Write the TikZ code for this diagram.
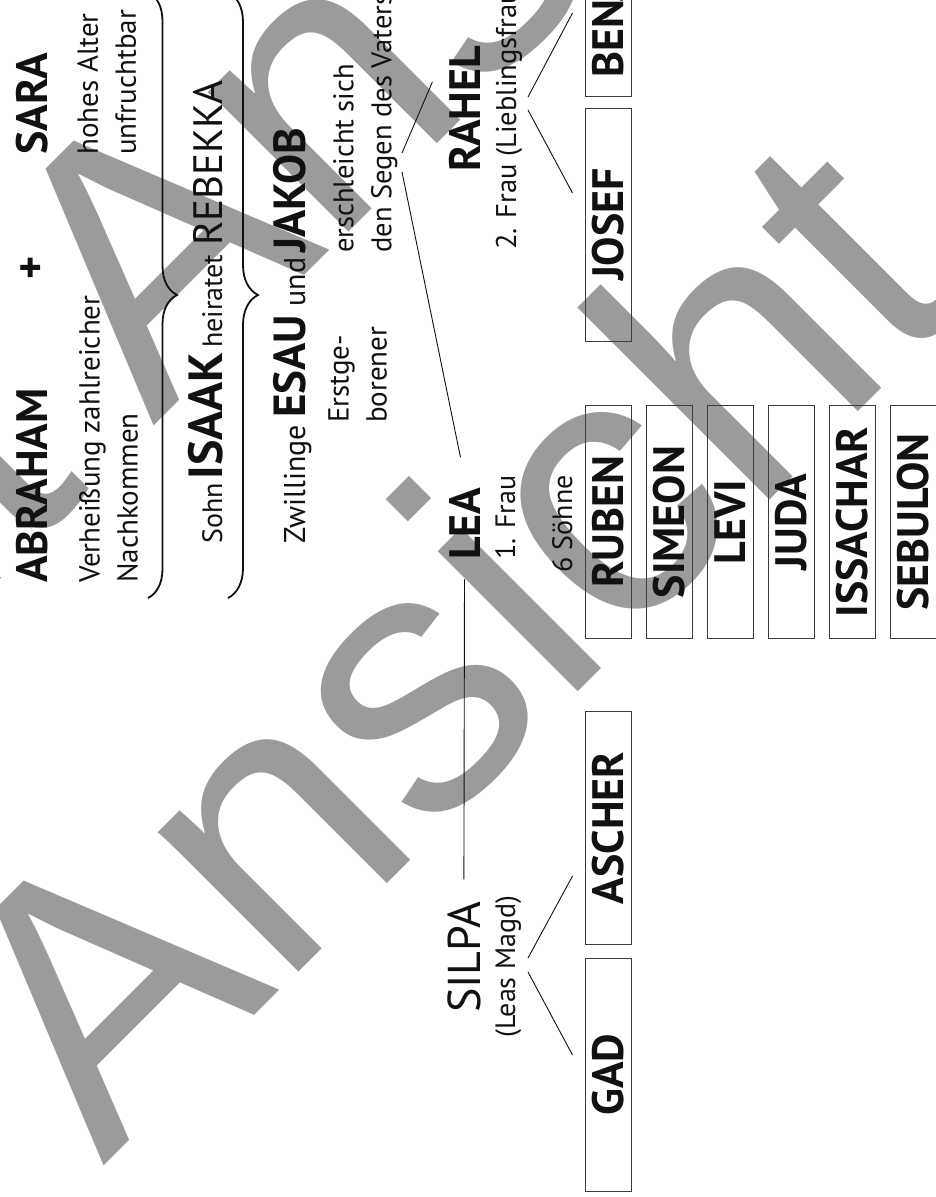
\documentclass[tikz,border=0pt]{standalone}
\usepackage{fontspec}
\setmainfont{PT Sans}
\newfontfamily\MarkFace{Liberation Sans}
\usetikzlibrary{calc,positioning,decorations.pathreplacing}
\definecolor{ink}{HTML}{111111}
\definecolor{boxline}{HTML}{3C3C3C}
\definecolor{markgrey}{HTML}{9B9B9B}
\newcommand{\NameFont}{\bfseries\fontsize{44}{50}\selectfont}
\newcommand{\BigFont}{\bfseries\fontsize{48}{54}\selectfont}
\newcommand{\TwinFont}{\bfseries\fontsize{45}{52}\selectfont}
\newcommand{\NoteFont}{\fontsize{29}{38}\selectfont}
\newcommand{\SmallFont}{\fontsize{28}{35}\selectfont}
\newcommand{\BoxFont}{\bfseries\fontsize{44}{50}\selectfont}
\tikzset{
  turned/.style={rotate=90, inner sep=0pt, text=ink},
  name label/.style={turned, font=\NameFont, anchor=base west},
  note label/.style={turned, font=\NoteFont, anchor=north west, align=left},
  line label/.style={turned, font=\SmallFont, anchor=base west},
  son box/.style={
    rotate=90, draw=boxline, line width=1pt, text=ink,
    minimum width=233pt, minimum height=46pt, inner sep=0pt, font=\BoxFont
  },
  kin line/.style={ink, line width=0.9pt},
  wedding brace/.style={
    ink, line width=1.8pt, decorate, decoration={brace, amplitude=#1}
  },
  preview mark/.style={
    markgrey, font=\MarkFace\fontsize{375}{375}\selectfont,
    rotate=45, anchor=base west, inner sep=0pt
  },
}

\begin{document}
\begin{tikzpicture}[x=1pt,y=-1pt]
  \useasboundingbox (0,0) rectangle (936,1197);
  \clip (0,0) rectangle (936,1197);

  % preview watermark (tiled)
  \node[preview mark] (mark-left) at (-777,1357) {Ansicht};
  \node[preview mark] (mark-upper) at (153,427) {Ansicht};
  \node[preview mark] (mark-lower) at (103,1167) {Ansicht};

  % Abraham + Sara
  \node[name label] (abraham) at (47,583) {ABRAHAM};
  \node[turned, font=\NameFont] (plus) at (33,268) {+};
  \node[name label] (sara) at (47,155) {SARA};
  \node[note label] (promise) at (79,583) {Verheißung zahlreicher\\Nachkommen};
  \node[note label] (age) at (77,155) {hohes Alter\\unfruchtbar};

  % braces down to Isaak and to the twins
  \draw[wedding brace=29pt] (148,-8) -- (148,598);
  \draw[wedding brace=30pt] (228,-8) -- (228,598);

  \node[line label] (isaak) at (222,544) {Sohn\hspace{4pt}{\BigFont ISAAK}\hspace{5pt}heiratet\hspace{9pt}{\fontsize{41}{48}\selectfont REBEKKA}};
  \node[line label, font=\fontsize{30}{36}\selectfont] (twins) at (305,544) {Zwillinge\hspace{7pt}{\TwinFont ESAU}\hspace{9pt}und\hspace{5pt}{\TwinFont JAKOB}};
  \node[note label] (esau) at (328,423) {Erstge-\\borener};
  \node[note label, font=\fontsize{28.5}{38}\selectfont] (jakob) at (333,253) {erschleicht sich\\den Segen des Vaters};

  % Jakob's wives
  \coordinate (jakob-fork) at (402,162);
  \node[name label] (rahel) at (480,172) {RAHEL};
  \node[line label, font=\fontsize{28.5}{35}\selectfont] (rahel-note) at (516,250) {2. Frau (Lieblingsfrau)};
  \node[name label] (lea) at (480,560) {LEA};
  \node[line label] (lea-note) at (515,560) {1. Frau};
  \node[line label] (lea-sons) at (572,573) {6 Söhne};
  \node[name label, font=\fontsize{46}{52}\selectfont] (silpa) at (480,1013) {SILPA};
  \node[line label] (silpa-note) at (515,1038) {(Leas Magd)};

  \draw[kin line] ($(jakob-fork)+(0,-9)$) -- ($(rahel.center)+(-32,-27)$);
  \draw[kin line] ($(jakob-fork)+(0,10)$) -- ($(lea.east)+(-4,-30)$);
  \draw[kin line] ($(lea.west)+(0,19)$) -- ($(silpa.east)+(0,-22)$);

  % sons
  \node[son box] (benjamin) at (608,-20) {BENJAMIN};
  \node[son box] (josef) at (608,224.5) {JOSEF};
  \foreach \nm/\lbl [count=\i from 0] in {ruben/RUBEN,simeon/SIMEON,levi/LEVI,
      juda/JUDA,issachar/ISSACHAR,sebulon/SEBULON}
    \node[son box] (\nm) at ({608+61*\i},522) {\lbl};
  \node[son box] (ascher) at (608,828) {ASCHER};
  \node[son box] (gad) at (608,1074.5) {GAD};

  \coordinate (rahel-fork) at (528,103.5);
  \draw[kin line] ($(rahel-fork)+(0,-6.5)$) -- ($(benjamin.north)+(-12,33)$);
  \draw[kin line] ($(rahel-fork)+(0,6.5)$) -- ($(josef.north)+(-12,-31.5)$);
  \coordinate (silpa-fork) at (528,965);
  \draw[kin line] ($(silpa-fork)+(0,-7)$) -- ($(ascher.north)+(-12,48)$);
  \draw[kin line] ($(silpa-fork)+(0,7)$) -- ($(gad.north)+(-12,-19.5)$);
\end{tikzpicture}
\end{document}
